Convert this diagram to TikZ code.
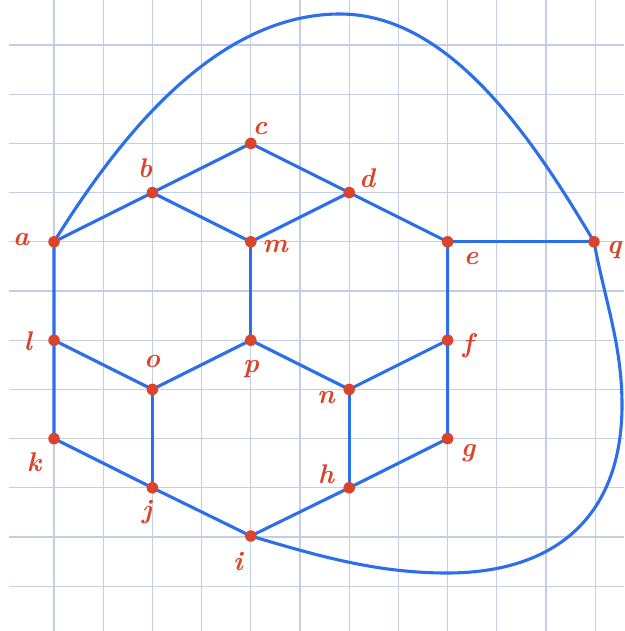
\documentclass[tikz,border=0pt]{standalone}
\usepackage{fontspec}
\begin{document}
\begin{tikzpicture}[x=1pt,y=-1pt,
  gridline/.style={draw={rgb,255:red,196;green,206;blue,226},line width=1.2pt},
  edge/.style={draw={rgb,255:red,45;green,110;blue,235},line width=3.1pt,line cap=round,line join=round},
  vtx/.style={circle,fill={rgb,255:red,218;green,68;blue,42},inner sep=0pt,minimum size=11.5pt},
  lbl/.style={text={rgb,255:red,218;green,68;blue,42},font=\fontsize{27}{29}\selectfont\bfseries\itshape,inner sep=0pt}]
\useasboundingbox[fill=white] (0,0) rectangle (624,631);
% grid
\foreach \i in {0,...,11} {
  \draw[gridline] ({54+49.2*\i},0) -- ({54+49.2*\i},631);
  \draw[gridline] (9,{45+49.2*\i}) -- (624,{45+49.2*\i});
}
% vertices
\coordinate (a) at (54,241.8);
\coordinate (b) at (152.4,192.6);
\coordinate (c) at (250.8,143.4);
\coordinate (d) at (349.2,192.6);
\coordinate (e) at (447.6,241.8);
\coordinate (q) at (594,241.8);
\coordinate (m) at (250.8,241.8);
\coordinate (l) at (54,340.2);
\coordinate (o) at (152.4,389.4);
\coordinate (p) at (250.8,340.2);
\coordinate (n) at (349.2,389.4);
\coordinate (f) at (447.6,340.2);
\coordinate (g) at (447.6,438.6);
\coordinate (h) at (349.2,487.8);
\coordinate (k) at (54,438.6);
\coordinate (j) at (152.4,487.8);
\coordinate (i) at (250.8,536);
% curve guide points
\coordinate (top) at (340,14);
\coordinate (rgt) at (622,405);
\coordinate (bot) at (447,573);
% edges
\draw[edge] (a) -- (b) -- (c) -- (d) -- (e) -- (f) -- (g) -- (h) -- (i) -- (j) -- (k) -- (l) -- (a);
\draw[edge] (b) -- (m) -- (d);
\draw[edge] (m) -- (p);
\draw[edge] (l) -- (o) -- (p) -- (n) -- (f);
\draw[edge] (o) -- (j);
\draw[edge] (n) -- (h);
\draw[edge] (e) -- (q);
\draw[edge] (a) .. controls (112,149) and (210,14) .. (top)
                .. controls (450,14) and (533,139) .. (q);
\draw[edge] (q) .. controls (605,301) and (622,345) .. (rgt)
                .. controls (622,515) and (557,573) .. (bot)
                .. controls (377,573) and (318,556) .. (i);
% dots
\foreach \v in {a,b,c,d,e,q,m,l,o,p,n,f,g,h,k,j,i}
  \node[vtx] (dot\v) at (\v) {};
% labels
\node[lbl] (la) at (21,240) {a};
\node[lbl] (lb) at (145,168) {b};
\node[lbl] (lc) at (260,129) {c};
\node[lbl] (ld) at (367,178) {d};
\node[lbl] (le) at (471,259) {e};
\node[lbl] (lq) at (614,250) {q};
\node[lbl] (lm) at (275,247) {m};
\node[lbl] (ll) at (28,341) {l};
\node[lbl] (lo) at (152,362) {o};
\node[lbl] (lp) at (251,369) {p};
\node[lbl] (ln) at (326,398) {n};
\node[lbl] (lf) at (468,346) {f};
\node[lbl] (lg) at (468,453) {g};
\node[lbl] (lh) at (326,474) {h};
\node[lbl] (lk) at (34,462) {k};
\node[lbl] (lj) at (147,512) {j};
\node[lbl] (li) at (238,562) {i};
\end{tikzpicture}
\end{document}
